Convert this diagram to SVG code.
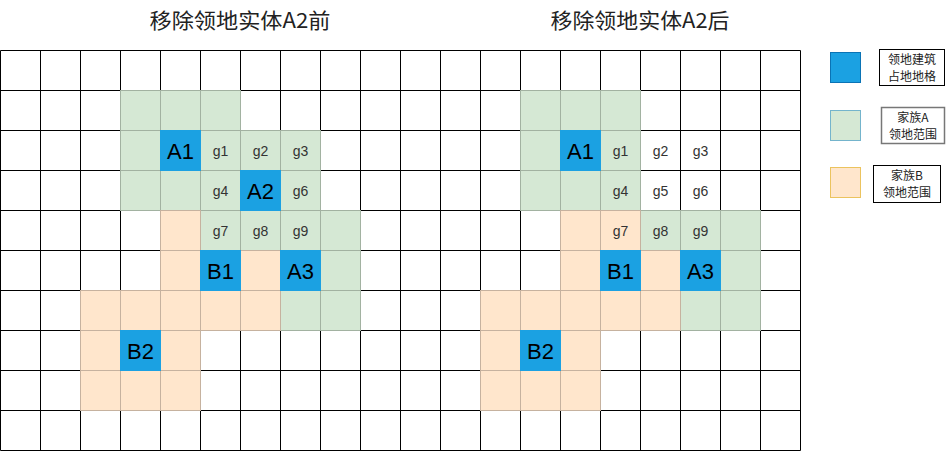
<svg xmlns="http://www.w3.org/2000/svg" width="951" height="451" viewBox="0 0 951 451">
<style>
.grid{stroke:#000;stroke-width:1;fill:none}
.g{fill:#d5e8d4;stroke:#a2b2a1;stroke-width:1}
.o{fill:#ffe6cc;stroke:#c6b29f;stroke-width:1}
.b{fill:#1ba1e2;stroke:#1ba1e2;stroke-width:1}
.big{font-family:"Liberation Sans",Arial,sans-serif;font-size:22px;fill:#000;text-anchor:middle}
.small{font-family:"Liberation Sans",Arial,sans-serif;font-size:14px;fill:#333;text-anchor:middle}
.title{font-family:"Noto Sans CJK SC","Noto Sans",sans-serif;font-size:21px;fill:#222;text-anchor:middle}
.leg{font-family:"Noto Sans CJK SC","Noto Sans",sans-serif;font-size:12px;fill:#222;text-anchor:middle}
</style>
<defs>
<rect id="cell" width="40" height="40"/>
</defs>
<rect width="951" height="451" fill="#fff"/>
<g id="titles">
<text class="title" x="240" y="28" textLength="181" lengthAdjust="spacingAndGlyphs">移除领地实体A2前</text>
<text class="title" x="640" y="28" textLength="179" lengthAdjust="spacingAndGlyphs">移除领地实体A2后</text>
</g>
<g id="grid-lines">
<path class="grid" d="M0.5 50.5V450.5M40.5 50.5V450.5M80.5 50.5V450.5M120.5 50.5V450.5M160.5 50.5V450.5M200.5 50.5V450.5M240.5 50.5V450.5M280.5 50.5V450.5M320.5 50.5V450.5M360.5 50.5V450.5M400.5 50.5V450.5M440.5 50.5V450.5M480.5 50.5V450.5M520.5 50.5V450.5M560.5 50.5V450.5M600.5 50.5V450.5M640.5 50.5V450.5M680.5 50.5V450.5M720.5 50.5V450.5M760.5 50.5V450.5M800.5 50.5V450.5M0.5 50.5H800.5M0.5 90.5H800.5M0.5 130.5H800.5M0.5 170.5H800.5M0.5 210.5H800.5M0.5 250.5H800.5M0.5 290.5H800.5M0.5 330.5H800.5M0.5 370.5H800.5M0.5 410.5H800.5M0.5 450.5H800.5"/>
</g>
<g id="before-territory-A">
<use href="#cell" class="g" x="120.5" y="90.5"/><use href="#cell" class="g" x="160.5" y="90.5"/><use href="#cell" class="g" x="200.5" y="90.5"/>
<use href="#cell" class="g" x="120.5" y="130.5"/><use href="#cell" class="g" x="200.5" y="130.5"/><use href="#cell" class="g" x="240.5" y="130.5"/><use href="#cell" class="g" x="280.5" y="130.5"/>
<use href="#cell" class="g" x="120.5" y="170.5"/><use href="#cell" class="g" x="160.5" y="170.5"/><use href="#cell" class="g" x="200.5" y="170.5"/><use href="#cell" class="g" x="280.5" y="170.5"/>
<use href="#cell" class="g" x="200.5" y="210.5"/><use href="#cell" class="g" x="240.5" y="210.5"/><use href="#cell" class="g" x="280.5" y="210.5"/><use href="#cell" class="g" x="320.5" y="210.5"/>
<use href="#cell" class="g" x="320.5" y="250.5"/><use href="#cell" class="g" x="280.5" y="290.5"/><use href="#cell" class="g" x="320.5" y="290.5"/>
</g>
<g id="before-territory-B">
<use href="#cell" class="o" x="160.5" y="210.5"/><use href="#cell" class="o" x="160.5" y="250.5"/><use href="#cell" class="o" x="240.5" y="250.5"/>
<use href="#cell" class="o" x="80.5" y="290.5"/><use href="#cell" class="o" x="120.5" y="290.5"/><use href="#cell" class="o" x="160.5" y="290.5"/><use href="#cell" class="o" x="200.5" y="290.5"/><use href="#cell" class="o" x="240.5" y="290.5"/>
<use href="#cell" class="o" x="80.5" y="330.5"/><use href="#cell" class="o" x="160.5" y="330.5"/>
<use href="#cell" class="o" x="80.5" y="370.5"/><use href="#cell" class="o" x="120.5" y="370.5"/><use href="#cell" class="o" x="160.5" y="370.5"/>
</g>
<g id="before-A1"><use href="#cell" class="b" x="160.5" y="130.5"/><text class="big" x="180.5" y="158.5">A1</text></g>
<g id="before-A2"><use href="#cell" class="b" x="240.5" y="170.5"/><text class="big" x="260.5" y="198.5">A2</text></g>
<g id="before-B1"><use href="#cell" class="b" x="200.5" y="250.5"/><text class="big" x="220.5" y="278.5">B1</text></g>
<g id="before-A3"><use href="#cell" class="b" x="280.5" y="250.5"/><text class="big" x="300.5" y="278.5">A3</text></g>
<g id="before-B2"><use href="#cell" class="b" x="120.5" y="330.5"/><text class="big" x="140.5" y="358.5">B2</text></g>
<g id="before-labels">
<text class="small" x="220.5" y="155.5">g1</text><text class="small" x="260.5" y="155.5">g2</text><text class="small" x="300.5" y="155.5">g3</text>
<text class="small" x="220.5" y="195.5">g4</text><text class="small" x="300.5" y="195.5">g6</text>
<text class="small" x="220.5" y="235.5">g7</text><text class="small" x="260.5" y="235.5">g8</text><text class="small" x="300.5" y="235.5">g9</text>
</g>
<g id="after-territory-A">
<use href="#cell" class="g" x="520.5" y="90.5"/><use href="#cell" class="g" x="560.5" y="90.5"/><use href="#cell" class="g" x="600.5" y="90.5"/>
<use href="#cell" class="g" x="520.5" y="130.5"/><use href="#cell" class="g" x="600.5" y="130.5"/>
<use href="#cell" class="g" x="520.5" y="170.5"/><use href="#cell" class="g" x="560.5" y="170.5"/><use href="#cell" class="g" x="600.5" y="170.5"/>
<use href="#cell" class="g" x="640.5" y="210.5"/><use href="#cell" class="g" x="680.5" y="210.5"/><use href="#cell" class="g" x="720.5" y="210.5"/>
<use href="#cell" class="g" x="720.5" y="250.5"/><use href="#cell" class="g" x="680.5" y="290.5"/><use href="#cell" class="g" x="720.5" y="290.5"/>
</g>
<g id="after-territory-B">
<use href="#cell" class="o" x="560.5" y="210.5"/><use href="#cell" class="o" x="600.5" y="210.5"/><use href="#cell" class="o" x="560.5" y="250.5"/><use href="#cell" class="o" x="640.5" y="250.5"/>
<use href="#cell" class="o" x="480.5" y="290.5"/><use href="#cell" class="o" x="520.5" y="290.5"/><use href="#cell" class="o" x="560.5" y="290.5"/><use href="#cell" class="o" x="600.5" y="290.5"/><use href="#cell" class="o" x="640.5" y="290.5"/>
<use href="#cell" class="o" x="480.5" y="330.5"/><use href="#cell" class="o" x="560.5" y="330.5"/>
<use href="#cell" class="o" x="480.5" y="370.5"/><use href="#cell" class="o" x="520.5" y="370.5"/><use href="#cell" class="o" x="560.5" y="370.5"/>
</g>
<g id="after-A1"><use href="#cell" class="b" x="560.5" y="130.5"/><text class="big" x="580.5" y="158.5">A1</text></g>
<g id="after-B1"><use href="#cell" class="b" x="600.5" y="250.5"/><text class="big" x="620.5" y="278.5">B1</text></g>
<g id="after-A3"><use href="#cell" class="b" x="680.5" y="250.5"/><text class="big" x="700.5" y="278.5">A3</text></g>
<g id="after-B2"><use href="#cell" class="b" x="520.5" y="330.5"/><text class="big" x="540.5" y="358.5">B2</text></g>
<g id="after-labels">
<text class="small" x="620.5" y="155.5">g1</text><text class="small" x="660.5" y="155.5">g2</text><text class="small" x="700.5" y="155.5">g3</text>
<text class="small" x="620.5" y="195.5">g4</text><text class="small" x="660.5" y="195.5">g5</text><text class="small" x="700.5" y="195.5">g6</text>
<text class="small" x="620.5" y="235.5">g7</text><text class="small" x="660.5" y="235.5">g8</text><text class="small" x="700.5" y="235.5">g9</text>
</g>
<g id="legend-building">
<rect x="830.5" y="52.5" width="30" height="30" fill="#1ba1e2" stroke="#0a73b5"/>
<rect x="879.5" y="49.5" width="65" height="36" fill="#fff" stroke="#000"/>
<text class="leg" x="912" y="63.5">领地建筑</text><text class="leg" x="912" y="81">占地地格</text>
</g>
<g id="legend-clan-A">
<rect x="830.5" y="110.5" width="30" height="30" fill="#d5e8d4" stroke="#74b4cc"/>
<rect x="881.5" y="107.5" width="63" height="36" fill="#fff" stroke="#777" stroke-width="1.5"/>
<text class="leg" x="913" y="121.5">家族A</text><text class="leg" x="913" y="139">领地范围</text>
</g>
<g id="legend-clan-B">
<rect x="830.5" y="167.5" width="30" height="30" fill="#ffe6cc" stroke="#ebc35e"/>
<rect x="873.5" y="165.5" width="67" height="37" fill="#fff" stroke="#000"/>
<text class="leg" x="907" y="179.5">家族B</text><text class="leg" x="907" y="197">领地范围</text>
</g>
</svg>
